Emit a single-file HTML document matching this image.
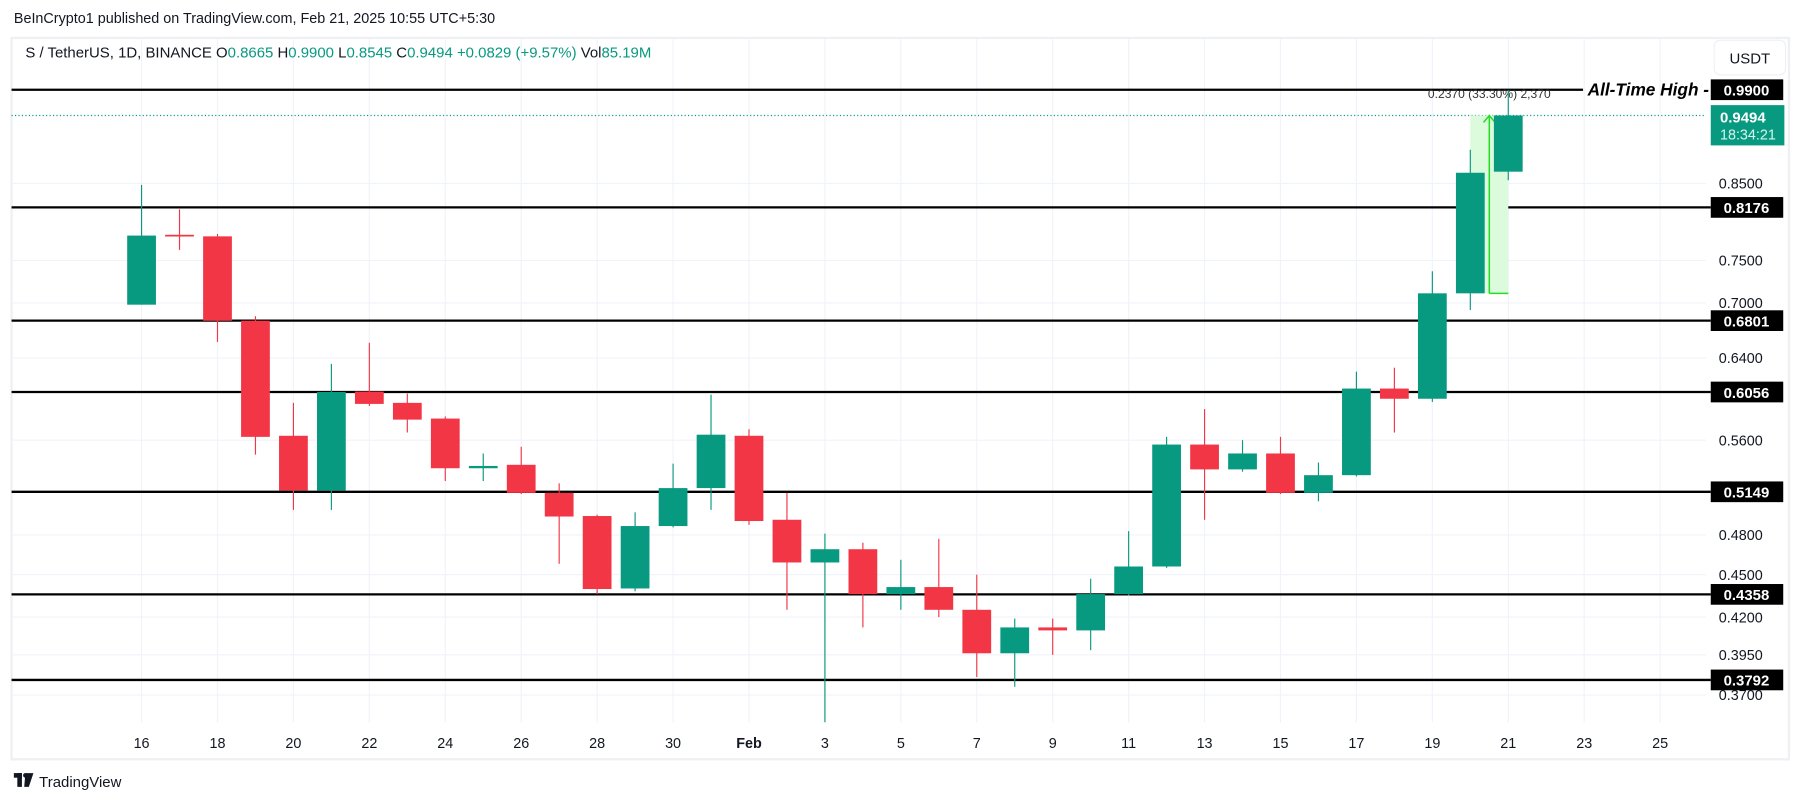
<!DOCTYPE html>
<html><head><meta charset="utf-8"><style>
html,body{margin:0;padding:0;background:#fff;}
svg{display:block;font-family:"Liberation Sans",sans-serif;}
</style></head><body>
<svg id="chart" width="1804" height="803" viewBox="0 0 1568 698" xmlns="http://www.w3.org/2000/svg">
<text x="12" y="20" font-size="12.5" fill="#131722">BeInCrypto1 published on TradingView.com, Feb 21, 2025 10:55 UTC+5:30</text>
<rect x="10" y="33" width="1545" height="627" fill="none" stroke="#eef0f3" stroke-width="2"/>
<g id="grid"></g>
<g id="levels"></g>
<g id="measure"></g>
<g id="candles"></g>
<g id="yaxis"></g>
<g id="xaxis"></g>
<text x="22" y="50" font-size="13" fill="#131722">S / TetherUS, 1D, BINANCE  O<tspan fill="#089981">0.8665</tspan>  H<tspan fill="#089981">0.9900</tspan>  L<tspan fill="#089981">0.8545</tspan>  C<tspan fill="#089981">0.9494</tspan>  <tspan fill="#089981">+0.0829 (+9.57%)</tspan>  Vol<tspan fill="#089981">85.19M</tspan></text>
<rect x="1490" y="35" width="62" height="30" rx="5" fill="#fff" stroke="#eef0f3"/>
<text x="1521" y="55" font-size="13" text-anchor="middle" fill="#131722">USDT</text>
<text x="1380" y="83" font-size="15" font-style="italic" font-weight="bold" fill="#000">All-Time High -</text>
<g><rect x="12" y="672" width="7" height="4" fill="#131722"/><rect x="15" y="672" width="4" height="12" fill="#131722"/><path d="M22 672h7l-4 12h-4z" fill="#131722"/><circle cx="22" cy="674" r="2" fill="#131722"/></g>
<text x="34" y="684" font-size="13" fill="#131722">TradingView</text>
</svg>
<script>
const dates=["Jan16","Jan17","Jan18","Jan19","Jan20","Jan21","Jan22","Jan23","Jan24","Jan25","Jan26","Jan27","Jan28","Jan29","Jan30","Jan31","Feb1","Feb2","Feb3","Feb4","Feb5","Feb6","Feb7","Feb8","Feb9","Feb10","Feb11","Feb12","Feb13","Feb14","Feb15","Feb16","Feb17","Feb18","Feb19","Feb20","Feb21"];
const opens=[0.698,0.782,0.780,0.680,0.564,0.516,0.606,0.595,0.580,0.535,0.538,0.514,0.495,0.440,0.487,0.518,0.564,0.492,0.459,0.469,0.436,0.441,0.425,0.396,0.413,0.411,0.436,0.456,0.556,0.534,0.548,0.514,0.529,0.609,0.599,0.711,0.8665];
const highs=[0.848,0.815,0.783,0.685,0.595,0.634,0.656,0.604,0.582,0.548,0.554,0.522,0.496,0.498,0.539,0.603,0.570,0.514,0.481,0.474,0.461,0.477,0.450,0.419,0.419,0.447,0.483,0.563,0.589,0.560,0.563,0.540,0.626,0.630,0.737,0.898,0.990];
const lows=[0.698,0.763,0.657,0.547,0.500,0.500,0.592,0.567,0.524,0.524,0.513,0.458,0.436,0.438,0.486,0.500,0.488,0.425,0.354,0.413,0.425,0.420,0.381,0.375,0.395,0.398,0.435,0.455,0.492,0.532,0.513,0.507,0.528,0.567,0.596,0.692,0.8545];
const closes=[0.781,0.780,0.680,0.563,0.516,0.6056,0.594,0.579,0.535,0.537,0.514,0.4946,0.4396,0.487,0.518,0.565,0.491,0.459,0.469,0.436,0.441,0.425,0.396,0.413,0.411,0.436,0.456,0.556,0.534,0.548,0.514,0.529,0.609,0.599,0.711,0.865,0.9494];
const levels=[0.9900,0.8176,0.6801,0.6056,0.5149,0.4358,0.3792];
const levelLabels=["0.9900","0.8176","0.6801","0.6056","0.5149","0.4358","0.3792"];
const yTicks=[0.85,0.75,0.70,0.64,0.56,0.48,0.45,0.42,0.395,0.37];
const yTickLabels=["0.8500","0.7500","0.7000","0.6400","0.5600","0.4800","0.4500","0.4200","0.3950","0.3700"];
const xTickLabels=["16","18","20","22","24","26","28","30","Feb","3","5","7","9","11","13","15","17","19","21","23","25"];
const lastPrice=0.9494, countdown="18:34:21";
const measureFrom=0.711, measureTo=0.9494, measureText="0.2370 (33.30%) 2,370";

const NS="http://www.w3.org/2000/svg";
const y=v=>78+(Math.log(0.99)-Math.log(v))*534.6;
const x=i=>123+i*33;
function mk(p,tag,a){const e=document.createElementNS(NS,tag);for(const k in a)e.setAttribute(k,a[k]);p.appendChild(e);return e;}
const G=id=>document.getElementById(id);
const PL=10,PR=1483,PT=34,PB=628;
xTickLabels.forEach((t,k)=>{const l=mk(G('grid'),'line',{x1:x(k*2),x2:x(k*2),y1:PT,y2:PB,stroke:'#f0f3fa'});

});
yTicks.forEach(v=>{const l=mk(G('grid'),'line',{x1:PL,x2:PR,y1:y(v),y2:y(v),stroke:'#f0f3fa'});

});
yTicks.forEach((v,i)=>{const t=mk(G('yaxis'),'text',{x:1494,y:y(v)+4.5,'font-size':12.5,fill:'#131722'});t.textContent=yTickLabels[i];

});
levels.forEach((v,i)=>{const l=mk(G('levels'),'line',{x1:PL,x2:i===0?1376:PR+4,y1:y(v),y2:y(v),stroke:'#000','stroke-width':2});


const r=mk(G('yaxis'),'rect',{x:1487,y:y(v)-9,width:63,height:18,fill:'#000'});


const t=mk(G('yaxis'),'text',{x:1518,y:y(v)+5,'font-size':13,'font-weight':'bold',fill:'#fff','text-anchor':'middle'});t.textContent=levelLabels[i];

});
const pl=mk(G('levels'),'line',{x1:PL,x2:PR,y1:y(lastPrice),y2:y(lastPrice),stroke:'#089981','stroke-dasharray':'1 2'});


const pb=mk(G('yaxis'),'rect',{x:1487,y:y(lastPrice)-9,width:64,height:35,fill:'#089981'});


const pt=mk(G('yaxis'),'text',{x:1495,y:y(lastPrice)+6,'font-size':13,'font-weight':'bold',fill:'#fff'});pt.textContent=lastPrice.toFixed(4);


const ct=mk(G('yaxis'),'text',{x:1495,y:y(lastPrice)+21,'font-size':12.5,fill:'#d8f5ec'});ct.textContent=countdown;


const mx1=x(35),mx2=x(36),mc=(mx1+mx2)/2;
const mr=mk(G('measure'),'rect',{x:mx1,y:y(measureTo),width:mx2-mx1,height:y(measureFrom)-y(measureTo),fill:'#dcfadc'});


const ml=mk(G('measure'),'path',{d:`M${mc} ${y(measureFrom)}V${y(measureTo)}M${mc-5} ${y(measureTo)+6}L${mc} ${y(measureTo)}L${mc+5} ${y(measureTo)+6}M${mc} ${y(measureFrom)}H${mx2}`,stroke:'#22dd22','stroke-width':1.3,fill:'none'});


const mt=mk(G('measure'),'text',{x:mc,y:85,'font-size':10.5,fill:'#333','text-anchor':'middle'});mt.textContent=measureText;


dates.forEach((d,i)=>{const up=closes[i]>=opens[i],c=up?'#089981':'#f23645',cx=x(i);
const w=mk(G('candles'),'line',{x1:cx,x2:cx,y1:y(highs[i]),y2:y(lows[i]),stroke:c,'stroke-width':1});


const t=Math.min(y(opens[i]),y(closes[i])),h=Math.max(1.5,Math.abs(y(opens[i])-y(closes[i])));
const b=mk(G('candles'),'rect',{x:cx-12.5,y:t,width:25,height:h,fill:c});

});
xTickLabels.forEach((t,k)=>{const e=mk(G('xaxis'),'text',{x:x(k*2),y:650,'font-size':12.5,fill:'#131722','text-anchor':'middle','font-weight':t==='Feb'?'bold':'normal'});e.textContent=t;

});
</script>
</body></html>
